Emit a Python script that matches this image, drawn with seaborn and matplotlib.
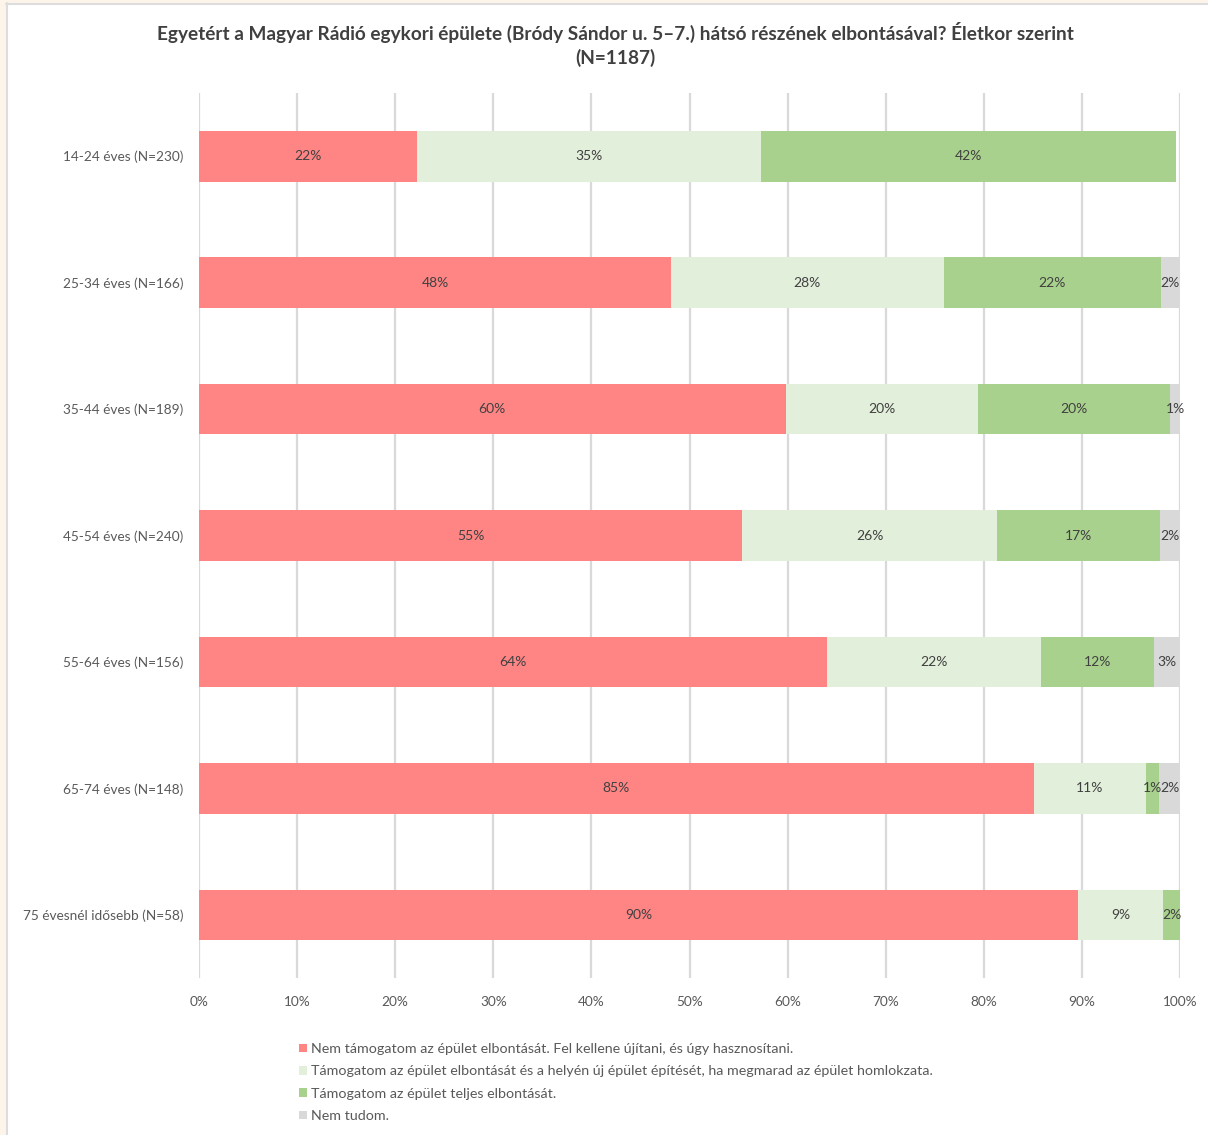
import numpy as np
import pandas as pd
import matplotlib
matplotlib.use("Agg")
import matplotlib.pyplot as plt
from matplotlib.patches import Rectangle, Patch
import seaborn as sns

# Data (percent of respondents per age group)
groups = ["14-24 éves (N=230)", "25-34 éves (N=166)", "35-44 éves (N=189)",
          "45-54 éves (N=240)", "55-64 éves (N=156)", "65-74 éves (N=148)",
          "75 évesnél idősebb (N=58)"]
not_support = [22.2, 48.1, 59.8, 55.4, 64.0, 85.1, 89.6]
keep_facade = [35.1, 27.8, 19.6, 25.9, 21.8, 11.4, 8.7]
full_demolish = [42.3, 22.2, 19.6, 16.7, 11.6, 1.4, 1.7]
dont_know = [0.0, 1.8, 1.0, 2.0, 2.6, 2.1, 0.0]

series_names = ["Nem támogatom az épület elbontását. Fel kellene újítani, és úgy hasznosítani.",
                "Támogatom az épület elbontását és a helyén új épület építését, ha megmarad az épület homlokzata.",
                "Támogatom az épület teljes elbontását.",
                "Nem tudom."]
colors = ["#FF8585", "#E2EFDA", "#A9D18E", "#D9D9D9"]

sns.set_theme(style="white")
plt.rcParams["font.family"] = ["Lato", "DejaVu Sans"]

df = pd.DataFrame({"group": groups,
                   series_names[0]: not_support,
                   series_names[1]: keep_facade,
                   series_names[2]: full_demolish,
                   series_names[3]: dont_know})
vals = df[series_names]
cum = vals.cumsum(axis=1)

fig = plt.figure(figsize=(12.08, 11.35), dpi=100)
ax = fig.add_axes([199 / 1208, 1 - 978 / 1135, 981 / 1208, 885 / 1135])

# stacked bars: draw cumulative totals from the back to the front
for name, col in reversed(list(zip(series_names, colors))):
    sns.barplot(x=cum[name], y=df["group"], orient="h", color=col,
                saturation=1, width=0.4, linewidth=0, ax=ax)

# segment labels
for i in range(len(groups)):
    left = 0
    for name in series_names:
        v = vals[name].iloc[i]
        if v >= 0.5:
            ax.text(left + v / 2, i, f"{v:.0f}%", ha="center", va="center",
                    fontsize=10, color="#404040")
        left += v

ax.set_xlim(0, 100)
ax.set_ylim(6.5, -0.5)
ax.set_xticks(np.arange(0, 101, 10))
ax.set_xticklabels([f"{t}%" for t in range(0, 101, 10)])
ax.xaxis.grid(True, color="#D9D9D9", linewidth=1.6)
ax.yaxis.grid(False)
ax.set_axisbelow(True)
for s in ax.spines.values():
    s.set_visible(False)
ax.tick_params(axis="x", length=0, pad=13, labelsize=9.8, labelcolor="#595959")
ax.tick_params(axis="y", length=0, pad=11, labelsize=9.8, labelcolor="#595959")
ax.set_xlabel("")
ax.set_ylabel("")

fig.text(615 / 1208, 1 - 32 / 1135, "Egyetért a Magyar Rádió egykori épülete (Bródy Sándor u. 5–7.) hátsó részének elbontásával? Életkor szerint",
         ha="center", va="center", fontsize=13.7, fontweight="bold", color="#404040")
fig.text(615 / 1208, 1 - 58 / 1135, "(N=1187)", ha="center", va="center",
         fontsize=13.7, fontweight="bold", color="#404040")

handles = [Patch(facecolor=c, edgecolor="none") for c in colors]
fig.legend(handles, series_names, loc="upper left",
           bbox_to_anchor=(292 / 1208, 1 - 1036 / 1135), frameon=False,
           fontsize=10.3, labelcolor="#595959", handlelength=0.55, handleheight=0.55,
           handletextpad=0.3, labelspacing=0.72, borderpad=0)

# outer frame of the screenshot
fig.patches.append(Rectangle((0, 0), 6 / 1208, 1, transform=fig.transFigure,
                             facecolor="#FDF4EA", edgecolor="none", zorder=-1))
fig.patches.append(Rectangle((0, 1 - 3 / 1135), 1, 3 / 1135, transform=fig.transFigure,
                             facecolor="#FDF4EA", edgecolor="none", zorder=-1))
fig.add_artist(plt.Line2D([6.5 / 1208, 6.5 / 1208], [0, 1 - 3 / 1135], transform=fig.transFigure,
                          color="#DDDDDD", linewidth=1.5))
fig.add_artist(plt.Line2D([6 / 1208, 1], [1 - 4 / 1135, 1 - 4 / 1135], transform=fig.transFigure,
                          color="#DDDDDD", linewidth=1.5))

fig.savefig("out.png", dpi=100, facecolor="white")
